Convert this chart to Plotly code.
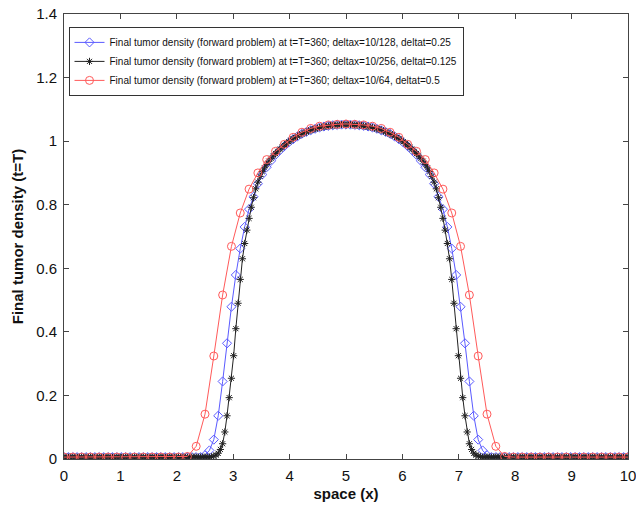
import numpy as np
import plotly.graph_objects as go

# x grids (deltax = 10/128, 10/256, 10/64)
x_blue = np.linspace(0, 10, 129)
x_black = np.linspace(0, 10, 257)
x_red = np.linspace(0, 10, 65)

names = [
    "Final tumor density (forward problem) at t=T=360; deltax=10/128, deltat=0.25",
    "Final tumor density (forward problem) at t=T=360; deltax=10/256, deltat=0.125",
    "Final tumor density (forward problem) at t=T=360; deltax=10/64, deltat=0.5",
]

y_red = [
    0.006, 0.006, 0.006, 0.006, 0.006, 0.006, 0.006, 0.006, 0.006, 0.006,
    0.006, 0.006, 0.006, 0.006, 0.008, 0.04, 0.141, 0.324, 0.516, 0.669,
    0.774, 0.849, 0.900, 0.942, 0.968, 0.99, 1.012, 1.028, 1.04, 1.047,
    1.051, 1.053, 1.054,
    1.053, 1.051, 1.047, 1.04, 1.028, 1.012, 0.99, 0.968, 0.942, 0.900,
    0.849, 0.774, 0.669, 0.516, 0.324, 0.141, 0.04, 0.008, 0.006, 0.006,
    0.006, 0.006, 0.006, 0.006, 0.006, 0.006, 0.006, 0.006, 0.006, 0.006,
    0.006, 0.006,
]

y_blue = [
    0.006, 0.006, 0.006, 0.006, 0.006, 0.006, 0.006, 0.006, 0.006, 0.006,
    0.006, 0.006, 0.006, 0.006, 0.006, 0.006, 0.006, 0.006, 0.006, 0.006,
    0.006, 0.006, 0.006, 0.006, 0.006, 0.006, 0.006, 0.006, 0.006, 0.006,
    0.006, 0.006,
    0.012, 0.027, 0.061, 0.136, 0.244, 0.364, 0.479, 0.579, 0.662, 0.730,
    0.786, 0.825, 0.866, 0.895, 0.918, 0.938, 0.957, 0.971, 0.984, 0.996,
    1.006, 1.015, 1.023, 1.029, 1.034, 1.039, 1.043, 1.046, 1.048, 1.05,
    1.051, 1.052, 1.052,
    1.052, 1.051, 1.05, 1.048, 1.046, 1.043, 1.039, 1.034, 1.029, 1.023,
    1.015, 1.006, 0.996, 0.984, 0.971, 0.957, 0.938, 0.918, 0.895, 0.866,
    0.825, 0.786, 0.730, 0.662, 0.579, 0.479, 0.364, 0.244, 0.136, 0.061,
    0.027, 0.012,
    0.006, 0.006, 0.006, 0.006, 0.006, 0.006, 0.006, 0.006, 0.006, 0.006,
    0.006, 0.006, 0.006, 0.006, 0.006, 0.006, 0.006, 0.006, 0.006, 0.006,
    0.006, 0.006, 0.006, 0.006, 0.006, 0.006, 0.006, 0.006, 0.006, 0.006,
    0.006, 0.006,
]

y_black = [
    0.006, 0.006, 0.006, 0.006, 0.006, 0.006, 0.006, 0.006, 0.006, 0.006,
    0.006, 0.006, 0.006, 0.006, 0.006, 0.006, 0.006, 0.006, 0.006, 0.006,
    0.006, 0.006, 0.006, 0.006, 0.006, 0.006, 0.006, 0.006, 0.006, 0.006,
    0.006, 0.006, 0.006, 0.006, 0.006, 0.006, 0.006, 0.006, 0.006, 0.006,
    0.006, 0.006, 0.006, 0.006, 0.006, 0.006, 0.006, 0.006, 0.006, 0.006,
    0.006, 0.006, 0.006, 0.006, 0.006, 0.006, 0.006, 0.006, 0.006, 0.006,
    0.006, 0.006, 0.006, 0.006, 0.006, 0.006, 0.006,
    0.007, 0.009,
    0.012, 0.018, 0.03, 0.048, 0.085, 0.136, 0.193, 0.254, 0.325, 0.41,
    0.49, 0.565, 0.63, 0.678, 0.72, 0.757, 0.792, 0.822, 0.85, 0.871,
    0.889, 0.904, 0.916, 0.927, 0.937, 0.946, 0.954, 0.961, 0.968, 0.975,
    0.981, 0.987, 0.993, 0.998, 1.003, 1.008, 1.012, 1.016, 1.02, 1.023,
    1.026, 1.029, 1.032, 1.035, 1.037, 1.039, 1.041, 1.043, 1.044, 1.046,
    1.047, 1.048, 1.049, 1.05, 1.05, 1.051, 1.051, 1.052, 1.052, 1.052,
    1.052, 1.052, 1.051, 1.051, 1.05, 1.05, 1.049, 1.048, 1.047,
    1.046, 1.044, 1.043, 1.041, 1.039, 1.037, 1.035, 1.032, 1.029, 1.026,
    1.023, 1.02, 1.016, 1.012, 1.008, 1.003, 0.998, 0.993, 0.987, 0.981,
    0.975, 0.968, 0.961, 0.954, 0.946, 0.937, 0.927, 0.916, 0.904, 0.889,
    0.871, 0.85, 0.822, 0.792, 0.757, 0.72, 0.678, 0.63, 0.565, 0.49,
    0.41, 0.325, 0.254, 0.193, 0.136, 0.085, 0.048, 0.03, 0.018, 0.012,
    0.009, 0.007,
    0.006, 0.006, 0.006, 0.006, 0.006, 0.006, 0.006, 0.006, 0.006, 0.006,
    0.006, 0.006, 0.006, 0.006, 0.006, 0.006, 0.006, 0.006, 0.006, 0.006,
    0.006, 0.006, 0.006, 0.006, 0.006, 0.006, 0.006, 0.006, 0.006, 0.006,
    0.006, 0.006, 0.006, 0.006, 0.006, 0.006, 0.006, 0.006, 0.006, 0.006,
    0.006, 0.006, 0.006, 0.006, 0.006, 0.006, 0.006, 0.006, 0.006, 0.006,
    0.006, 0.006, 0.006, 0.006, 0.006, 0.006, 0.006, 0.006, 0.006, 0.006,
    0.006, 0.006, 0.006, 0.006, 0.006, 0.006, 0.006,
]

x_ticks = [0, 1, 2, 3, 4, 5, 6, 7, 8, 9, 10]
y_ticks = [0, 0.2, 0.4, 0.6, 0.8, 1.0, 1.2, 1.4]
y_tick_text = ["0", "0.2", "0.4", "0.6", "0.8", "1", "1.2", "1.4"]

fig = go.Figure()
fig.add_trace(go.Scatter(
    x=x_blue, y=y_blue, name=names[0], mode="lines+markers",
    line=dict(color="#5a5aff", width=1),
    marker=dict(symbol="diamond-open", size=7, color="#5a5aff", line=dict(width=1)),
))
fig.add_trace(go.Scatter(
    x=x_black, y=y_black, name=names[1], mode="lines+markers",
    line=dict(color="#222222", width=1),
    marker=dict(symbol="asterisk-open", size=6, color="#222222", line=dict(width=1, color="#222222")),
))
fig.add_trace(go.Scatter(
    x=x_red, y=y_red, name=names[2], mode="lines+markers",
    line=dict(color="#ff5a5a", width=1),
    marker=dict(symbol="circle-open", size=8, color="#ff5a5a", line=dict(width=1)),
))

axis_common = dict(
    showgrid=False, zeroline=False, showline=True, linecolor="#444444", linewidth=1,
    mirror="ticks", ticks="inside", ticklen=5, tickcolor="#444444", automargin=False,
    ticklabeloverflow="allow",
    tickfont=dict(family="Liberation Sans, Arial", size=15, color="#111111"),
)

fig.update_layout(
    width=636, height=511,
    margin=dict(l=64, r=8, t=14, b=52),
    paper_bgcolor="white", plot_bgcolor="white",
    font=dict(family="Liberation Sans, Arial", color="#111111"),
    xaxis=dict(range=[0, 10], tickvals=x_ticks, ticklabelstandoff=3,
               title=dict(text="<b>space (x)</b>", font=dict(size=15), standoff=5),
               **axis_common),
    yaxis=dict(range=[0, 1.4], tickvals=y_ticks, ticktext=y_tick_text, ticklabelstandoff=3,
               title=dict(text="<b>Final tumor density (t=T)</b>", font=dict(size=15), standoff=8),
               **axis_common),
    legend=dict(x=0.008, y=0.971, xanchor="left", yanchor="top",
                bgcolor="white", bordercolor="#333333", borderwidth=1,
                font=dict(size=10, family="Liberation Sans, Arial", color="#111111"),
                tracegroupgap=0),
    showlegend=True,
)

fig.write_html("out.html", config={"displayModeBar": False},
               post_script="document.body.style.margin='0';document.body.style.padding='0';")
